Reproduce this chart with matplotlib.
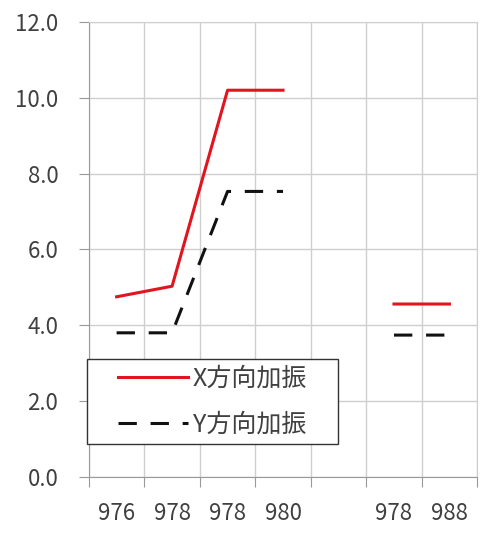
import numpy as np
import matplotlib.pyplot as plt
from matplotlib.patches import Rectangle
from matplotlib.ticker import FixedLocator, FormatStrFormatter

plt.rcParams['font.family'] = ['Noto Sans CJK JP', 'DejaVu Sans']

categories = ['976', '978', '978', '980', '', '978', '988']
x_dir = [4.75, 5.03, 10.2, 10.2, np.nan, 4.56, 4.56]
y_dir = [3.8, 3.8, 7.53, 7.53, np.nan, 3.74, 3.74]
labels = ['X方向加振', 'Y方向加振']

fig = plt.figure(figsize=(4.83, 5.5), dpi=100)
ax = fig.add_axes([0.184, 0.133, 0.804, 0.827])

pos = np.arange(len(categories))
ax.plot(pos, x_dir, color='#e2141f', lw=2.2, label=labels[0])
ax.plot(pos, y_dir, color='#111111', lw=2.2, linestyle=(0, (6, 4.5)), label=labels[1])

ax.set_xlim(-0.5, len(categories) - 0.5)
ax.set_ylim(0, 12)
ax.set_yticks(np.arange(0, 12.1, 2))
ax.yaxis.set_major_formatter(FormatStrFormatter('%.1f'))

ax.xaxis.set_major_locator(FixedLocator(np.arange(-0.5, len(categories), 1)))
ax.xaxis.set_minor_locator(FixedLocator(pos))
ax.set_xticklabels([], minor=False)
ax.set_xticklabels(categories, minor=True)
ax.tick_params(axis='x', which='major', length=7, color='#999999')
ax.tick_params(axis='x', which='minor', length=0, pad=18)
ax.tick_params(axis='y', length=7, color='#999999', pad=15)
ax.tick_params(which='both', labelsize=16, labelcolor='#404040')

ax.grid(True, which='major', color='#cfcfcf', lw=1)
for s in ax.spines.values():
    s.set_color('#cfcfcf')
ax.spines['left'].set_color('#999999')
ax.spines['bottom'].set_color('#999999')

# legend box with wider side padding than matplotlib's borderpad allows
box = Rectangle((-0.005, 0.0725), 0.647, 0.1865, transform=ax.transAxes,
                facecolor='white', edgecolor='#333333', lw=1, zorder=4,
                clip_on=False)
ax.add_patch(box)
leg = ax.legend(loc='center', bbox_to_anchor=(0.318, 0.166), fontsize=18,
                handlelength=2.8, handletextpad=0.2, labelspacing=0.8,
                borderpad=0, frameon=False)
leg.set_zorder(5)
for t in leg.get_texts():
    t.set_color('#404040')

plt.savefig('out.png', dpi=100)
